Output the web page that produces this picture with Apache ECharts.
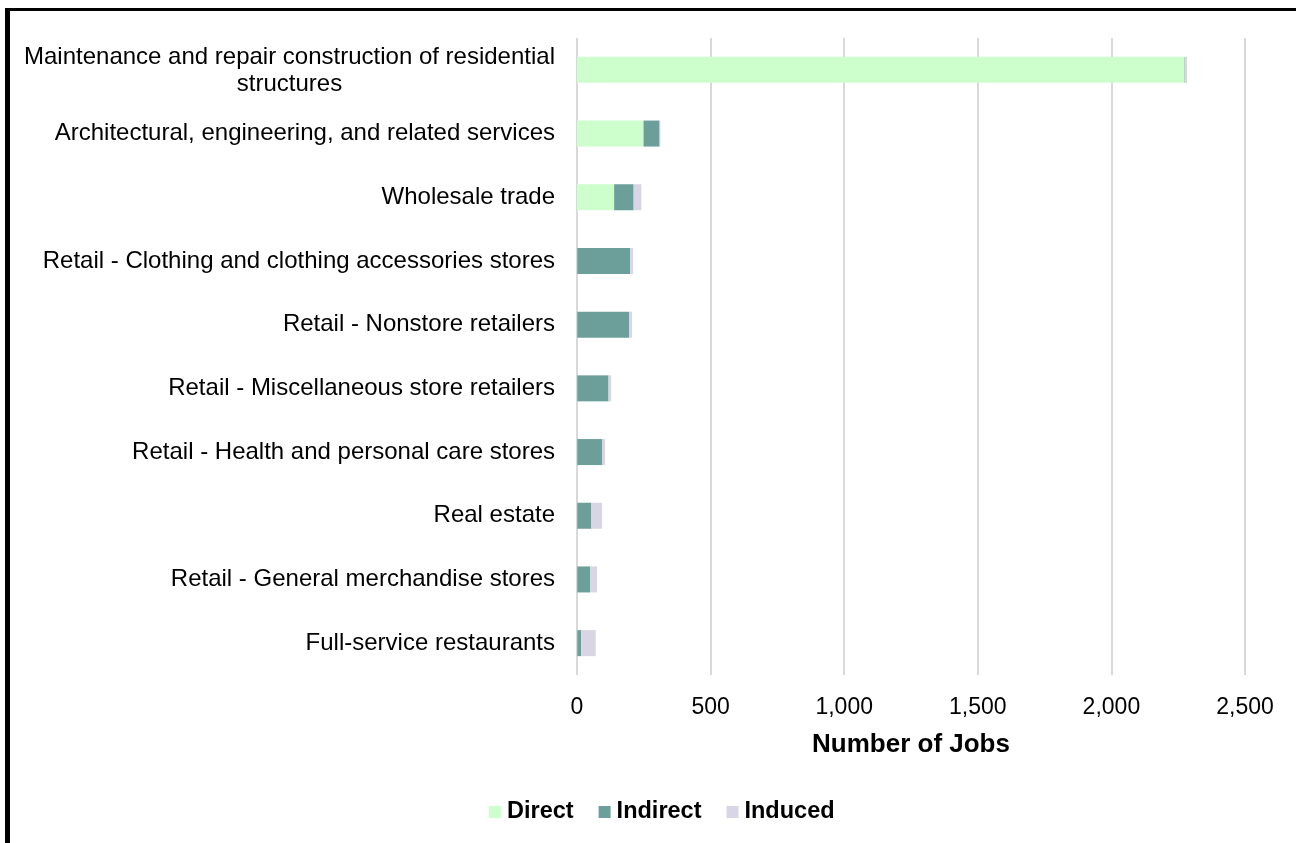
<!DOCTYPE html>
<html>
<head>
<meta charset="utf-8">
<script src="https://cdn.jsdelivr.net/npm/echarts@6/dist/echarts.min.js"></script>
<style>
html,body{margin:0;padding:0;background:#fff;}
#chart{width:1296px;height:843px;}
</style>
</head>
<body>
<div id="chart"></div>
<script>
const categories = [
  'Maintenance and repair construction of residential structures',
  'Architectural, engineering, and related services',
  'Wholesale trade',
  'Retail - Clothing and clothing accessories stores',
  'Retail - Nonstore retailers',
  'Retail - Miscellaneous store retailers',
  'Retail - Health and personal care stores',
  'Real estate',
  'Retail - General merchandise stores',
  'Full-service restaurants'
];
const directJobs   = [2274, 249, 139, 1, 1, 1, 1, 1, 1, 1];
const indirectJobs = [2, 60, 73, 198, 194, 117, 94, 53, 48, 15];
const inducedJobs  = [7, 3, 29, 11, 11, 10, 10, 40, 26, 54];
const xTicks = [0, 500, 1000, 1500, 2000, 2500];

const FONT = '"Liberation Sans", Arial, sans-serif';
const LABEL_SIZE = 24;

// measure width of the first line of the wrapped label to center the second line under it
const ctx = document.createElement('canvas').getContext('2d');
ctx.font = LABEL_SIZE + 'px ' + FONT;
const line1 = 'Maintenance and repair construction of residential';
const line1W = Math.ceil(ctx.measureText(line1).width);

const chart = echarts.init(document.getElementById('chart'));
const seriesBase = {
  type: 'bar',
  stack: 'jobs',
  barWidth: 26,
  emphasis: { disabled: true }
};
chart.setOption({
  animation: false,
  textStyle: { fontFamily: FONT },
  graphic: [
    { type: 'line', shape: { x1: 7.5, y1: 8, x2: 7.5, y2: 900 }, style: { stroke: '#000', lineWidth: 5 } },
    { type: 'line', shape: { x1: 5, y1: 9.5, x2: 1400, y2: 9.5 }, style: { stroke: '#000', lineWidth: 3 } }
  ],
  grid: { left: 577, right: 51, top: 38, bottom: 168, containLabel: false },
  legend: {
    left: 484,
    top: 795,
    itemWidth: 12,
    itemHeight: 12,
    itemGap: 25,
    icon: 'rect',
    textStyle: { fontFamily: FONT, fontSize: 23.5, fontWeight: 'bold', color: '#000', padding: [0, 0, 0, 1] },
    data: ['Direct', 'Indirect', 'Induced']
  },
  xAxis: {
    type: 'value',
    min: 0,
    max: 2500,
    interval: 500,
    name: 'Number of Jobs',
    nameLocation: 'middle',
    nameGap: 57,
    nameTextStyle: { fontFamily: FONT, fontSize: 26, fontWeight: 'bold', color: '#000' },
    axisLine: { show: false },
    axisTick: { show: false },
    axisLabel: {
      fontFamily: FONT, fontSize: 23, color: '#000', margin: 21,
      formatter: v => xTicks.includes(v) ? v.toLocaleString('en-US') : ''
    },
    splitLine: { show: true, lineStyle: { color: '#d9d9d9', width: 2 } }
  },
  yAxis: {
    type: 'category',
    inverse: true,
    data: categories,
    axisLine: { show: false },
    axisTick: { show: false },
    axisLabel: {
      fontFamily: FONT, fontSize: LABEL_SIZE, color: '#000', margin: 22,
      lineHeight: 27,
      formatter: function (v) {
        if (v === categories[0]) {
          return '{c|' + line1 + '}\n{c|structures}';
        }
        return v;
      },
      rich: {
        c: { width: line1W, align: 'center', fontFamily: FONT, fontSize: LABEL_SIZE, color: '#000', lineHeight: 27, padding: [2, 0, 0, 0] }
      }
    }
  },
  series: [
    Object.assign({}, seriesBase, { name: 'Direct', data: directJobs, itemStyle: { color: '#ccffcc' } }),
    Object.assign({}, seriesBase, { name: 'Indirect', data: indirectJobs, itemStyle: { color: '#6c9f9a' } }),
    Object.assign({}, seriesBase, { name: 'Induced', data: inducedJobs, itemStyle: { color: '#d8d5e5' } })
  ]
});
</script>
</body>
</html>
